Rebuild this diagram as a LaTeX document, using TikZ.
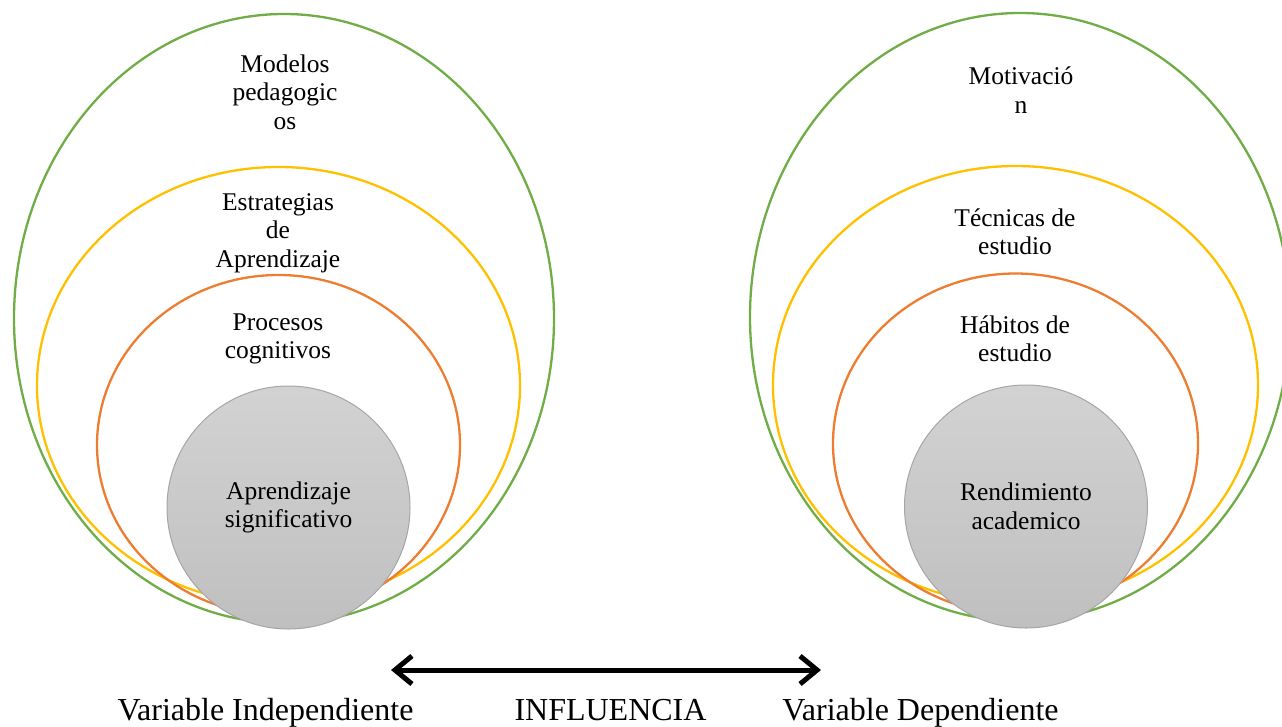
\documentclass[tikz,border=0pt]{standalone}
\usepackage{fontspec}
\setmainfont{Liberation Serif}
\usetikzlibrary{arrows.meta}
\definecolor{verde}{HTML}{70AD47}
\definecolor{amarillo}{HTML}{FFC000}
\definecolor{naranja}{HTML}{ED7D31}
\definecolor{gris}{HTML}{A6A6A6}
\begin{document}
\begin{tikzpicture}[x=1pt,y=-1pt,
    anillo/.style={line width=2.3pt},
    etiqueta/.style={align=center,inner sep=0pt,font=\fontsize{25.5}{28.5}\selectfont},
    nucleo/.style={circle,draw=gris,line width=1pt,top color=gray!35,bottom color=gray!50,
        minimum size=243pt,inner sep=0pt,align=center,font=\fontsize{25.5}{28.5}\selectfont},
    rotulo/.style={anchor=base,inner sep=0pt,font=\fontsize{32}{32}\selectfont},
    flecha/.style={line width=5pt,{Straight Barb[length=17pt,width=28pt]}-{Straight Barb[length=17pt,width=28pt]}}]
    \useasboundingbox (0,0) rectangle (1282,726);
    \clip (0,0) rectangle (1282,726);
    % variable independiente
    \draw[anillo,verde] (284,318.5) ellipse [x radius=270pt,y radius=304.5pt];
    \draw[anillo,amarillo] (278.5,385.5) ellipse [x radius=241.5pt,y radius=218.5pt];
    \draw[anillo,naranja] (278.5,445) ellipse [x radius=181.5pt,y radius=170pt];
    \node[etiqueta] (modelos) at (285,92) {Modelos\\pedagogic\\os};
    \node[etiqueta] (estrategias) at (278,233) {Estrategias\\de\\Aprendizaje};
    \node[etiqueta] (procesos) at (278,339) {Procesos\\cognitivos};
    \node[nucleo] (aprendizaje) at (288.5,507.5) {Aprendizaje\\significativo};
    % variable dependiente
    \draw[anillo,verde] (1020,317) ellipse [x radius=270pt,y radius=304pt];
    \draw[anillo,amarillo] (1015.5,385) ellipse [x radius=242.5pt,y radius=219pt];
    \draw[anillo,naranja] (1015.5,443.5) ellipse [x radius=182.5pt,y radius=170pt];
    \node[etiqueta] (motivacion) at (1021,90) {Motivació\\n};
    \node[etiqueta] (tecnicas) at (1015,232) {Técnicas de\\estudio};
    \node[etiqueta] (habitos) at (1015,339) {Hábitos de\\estudio};
    \node[nucleo] (rendimiento) at (1026,506.5) {Rendimiento\\academico};
    % influencia
    \coordinate (flechaIzq) at (391,670);
    \coordinate (flechaDer) at (821,670);
    \draw[flecha] (flechaIzq) -- (flechaDer);
    \node[rotulo] (independiente) at (265.5,720) {Variable Independiente};
    \node[rotulo] (influencia) at (610.5,720) {INFLUENCIA};
    \node[rotulo] (dependiente) at (920.5,720) {Variable Dependiente};
\end{tikzpicture}
\end{document}
